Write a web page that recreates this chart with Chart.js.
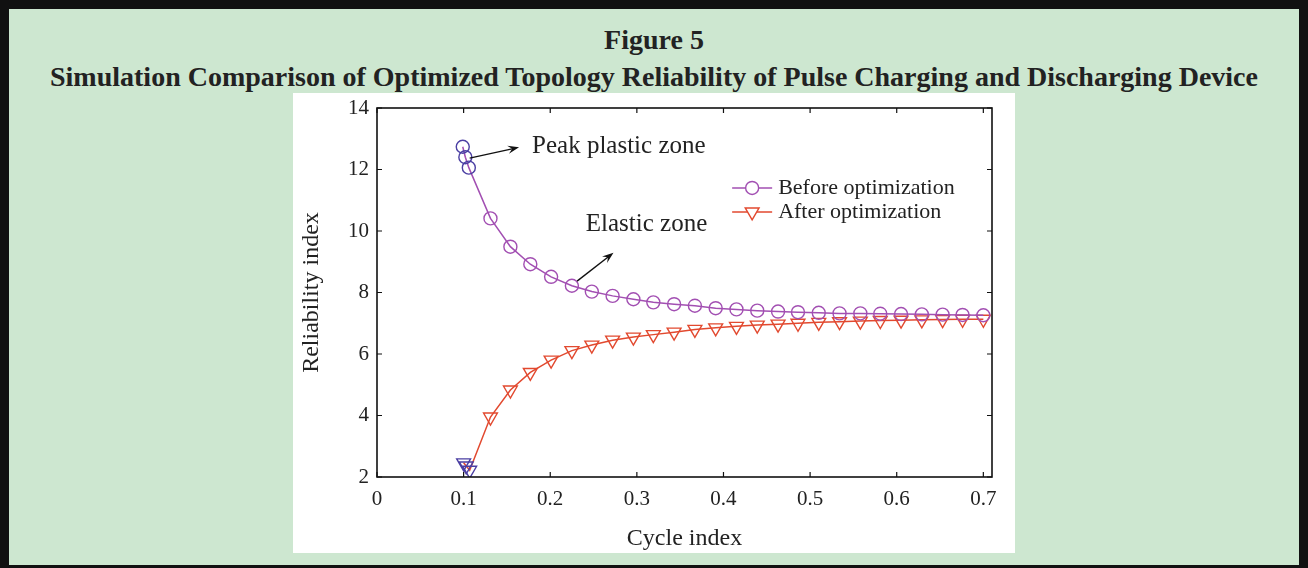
<!DOCTYPE html>
<html>
<head>
<meta charset="utf-8">
<script src="https://cdn.jsdelivr.net/npm/chart.js@4.4.0/dist/chart.umd.min.js"></script>
<style>
  html, body { margin: 0; padding: 0; }
  body { width: 1308px; height: 568px; overflow: hidden; }
  #frame {
    position: relative; box-sizing: border-box;
    width: 1308px; height: 568px;
    background: #cde7d0;
    border-style: solid; border-color: #111;
    border-width: 9px 9px 3px 9px;
  }
  .ttl {
    position: absolute; left: -9px; width: 1308px; text-align: center;
    font-family: "Liberation Serif", serif; font-weight: bold;
    font-size: 28px; color: #222; line-height: 30px;
  }
  #wrap { position: absolute; left: 284px; top: 84px; width: 722px; height: 460px; background: #fff; }
</style>
</head>
<body>
<div id="frame">
  <div class="ttl" style="top:16px">Figure 5</div>
  <div class="ttl" style="top:53px">Simulation Comparison of Optimized Topology Reliability of Pulse Charging and Discharging Device</div>
  <div id="wrap"><canvas id="c" width="722" height="460"></canvas></div>
</div>
<script>
const beforeX = [0.099, 0.102, 0.106, 0.131, 0.154, 0.177, 0.201, 0.225, 0.248, 0.272, 0.296, 0.319, 0.343,
  0.367, 0.391, 0.415, 0.439, 0.463, 0.486, 0.510, 0.534, 0.558, 0.581, 0.605, 0.629, 0.653, 0.676, 0.700];
const beforeY = [12.74, 12.40, 12.06, 10.41, 9.49, 8.92, 8.51, 8.22, 8.03, 7.89, 7.78, 7.68, 7.62,
  7.57, 7.49, 7.45, 7.41, 7.38, 7.36, 7.34, 7.32, 7.32, 7.31, 7.30, 7.29, 7.28, 7.27, 7.26];
const afterX = [0.100, 0.103, 0.107, 0.131, 0.154, 0.177, 0.201, 0.225, 0.248, 0.272, 0.296, 0.319, 0.343,
  0.367, 0.391, 0.415, 0.439, 0.463, 0.486, 0.510, 0.534, 0.558, 0.581, 0.605, 0.629, 0.653, 0.676, 0.700];
const afterY = [2.46, 2.36, 2.22, 3.95, 4.83, 5.40, 5.80, 6.11, 6.29, 6.45, 6.55, 6.63, 6.71,
  6.80, 6.85, 6.90, 6.94, 6.97, 7.00, 7.03, 7.05, 7.07, 7.09, 7.10, 7.11, 7.12, 7.13, 7.13];
const seriesNames = ["Before optimization", "After optimization"];
const xTicks = [0, 0.1, 0.2, 0.3, 0.4, 0.5, 0.6, 0.7];
const yTicks = [2, 4, 6, 8, 10, 12, 14];

const FONT = '"Liberation Serif", "Times New Roman", serif';
const INK = '#222';
const purple = '#a24fb2', red = '#e2492f', blue = '#4b3fa3';

function pts(xs, ys) { return xs.map((x, i) => ({ x: x, y: ys[i] })); }
function firstBlue(n, c) { return Array.from({ length: n }, (_, i) => i < 3 ? blue : c); }

// box, inward ticks, arrows, notes and the in-plot legend
const decor = {
  id: 'decor',
  afterDraw(chart) {
    const { ctx, chartArea: a, scales: { x, y } } = chart;
    ctx.save();
    ctx.strokeStyle = '#111';
    ctx.lineWidth = 1.6;
    ctx.strokeRect(a.left, a.top, a.right - a.left, a.bottom - a.top);
    ctx.lineWidth = 1.2;
    ctx.beginPath();
    x.ticks.forEach(t => {
      const px = x.getPixelForValue(t.value);
      ctx.moveTo(px, a.bottom); ctx.lineTo(px, a.bottom - 5);
      ctx.moveTo(px, a.top); ctx.lineTo(px, a.top + 5);
    });
    y.ticks.forEach(t => {
      const py = y.getPixelForValue(t.value);
      ctx.moveTo(a.left, py); ctx.lineTo(a.left + 5, py);
      ctx.moveTo(a.right, py); ctx.lineTo(a.right - 5, py);
    });
    ctx.stroke();

    const arrow = (x0, y0, x1, y1) => {
      const X0 = x.getPixelForValue(x0), Y0 = y.getPixelForValue(y0);
      const X1 = x.getPixelForValue(x1), Y1 = y.getPixelForValue(y1);
      const ang = Math.atan2(Y1 - Y0, X1 - X0);
      ctx.strokeStyle = '#111'; ctx.fillStyle = '#111'; ctx.lineWidth = 1.4;
      ctx.beginPath(); ctx.moveTo(X0, Y0); ctx.lineTo(X1 - 6 * Math.cos(ang), Y1 - 6 * Math.sin(ang)); ctx.stroke();
      ctx.beginPath();
      ctx.moveTo(X1, Y1);
      ctx.lineTo(X1 - 12 * Math.cos(ang - 0.35), Y1 - 12 * Math.sin(ang - 0.35));
      ctx.lineTo(X1 - 7 * Math.cos(ang), Y1 - 7 * Math.sin(ang));
      ctx.lineTo(X1 - 12 * Math.cos(ang + 0.35), Y1 - 12 * Math.sin(ang + 0.35));
      ctx.closePath(); ctx.fill();
    };
    arrow(0.107, 12.37, 0.164, 12.72);
    arrow(0.231, 8.37, 0.273, 9.29);

    ctx.fillStyle = INK;
    ctx.font = '25px ' + FONT;
    ctx.textBaseline = 'middle';
    ctx.textAlign = 'left';
    ctx.fillText('Peak plastic zone', x.getPixelForValue(0.179), y.getPixelForValue(12.76));
    ctx.fillText('Elastic zone', x.getPixelForValue(0.241), y.getPixelForValue(10.2));

    // legend
    const lx = x.getPixelForValue(0.41);
    chart.data.datasets.forEach((ds, i) => {
      const ly = y.getPixelForValue(11.4) + i * 24;
      ctx.strokeStyle = ds.borderColor; ctx.lineWidth = 1.5;
      ctx.beginPath(); ctx.moveTo(lx, ly); ctx.lineTo(lx + 40, ly); ctx.stroke();
      ctx.fillStyle = '#fff';
      ctx.lineWidth = ds.pointBorderWidth;
      Chart.helpers.drawPoint(ctx, {
        pointStyle: ds.pointStyle, rotation: ds.pointRotation || 0,
        radius: ds.pointRadius, borderWidth: ds.pointBorderWidth
      }, lx + 20, ly);
      ctx.fillStyle = INK;
      ctx.font = '22px ' + FONT;
      ctx.fillText(ds.label, lx + 46, ly);
    });
    ctx.restore();
  }
};

new Chart(document.getElementById('c'), {
  type: 'line',
  data: {
    datasets: [
      {
        label: seriesNames[0], data: pts(beforeX, beforeY),
        borderColor: purple, borderWidth: 1.5, tension: 0,
        pointStyle: 'circle', pointRadius: 6.5, pointBorderWidth: 1.4,
        pointBackgroundColor: 'rgba(0,0,0,0)', pointBorderColor: firstBlue(beforeX.length, purple)
      },
      {
        label: seriesNames[1], data: pts(afterX, afterY),
        borderColor: red, borderWidth: 1.5, tension: 0,
        pointStyle: 'triangle', pointRotation: 180, pointRadius: 8, pointBorderWidth: 1.4,
        pointBackgroundColor: 'rgba(0,0,0,0)', pointBorderColor: firstBlue(afterX.length, red)
      }
    ]
  },
  options: {
    responsive: false, animation: false,
    layout: { padding: { top: 15, right: 23, left: 0, bottom: 0 } },
    plugins: { legend: { display: false }, tooltip: { enabled: false } },
    elements: { point: { hoverRadius: 6.5 } },
    scales: {
      x: {
        type: 'linear', min: 0, max: 0.71,
        afterFit: s => { s.height = 76; },
        afterBuildTicks: s => { s.ticks = xTicks.map(v => ({ value: v })); },
        ticks: { padding: 2, color: INK, font: { family: FONT, size: 21 }, callback: v => String(v) },
        grid: { display: false }, border: { display: false },
        title: { display: true, text: 'Cycle index', color: INK, font: { family: FONT, size: 24 }, padding: { top: 0, bottom: 0 } }
      },
      y: {
        min: 2, max: 14,
        afterFit: s => { s.width = 84; },
        afterBuildTicks: s => { s.ticks = yTicks.map(v => ({ value: v })); },
        ticks: { padding: 0, color: INK, font: { family: FONT, size: 21 } },
        grid: { display: false }, border: { display: false },
        title: { display: true, text: 'Reliability index', color: INK, font: { family: FONT, size: 24 }, padding: { top: 4, bottom: 0 } }
      }
    }
  },
  plugins: [decor]
});
</script>
</body>
</html>
